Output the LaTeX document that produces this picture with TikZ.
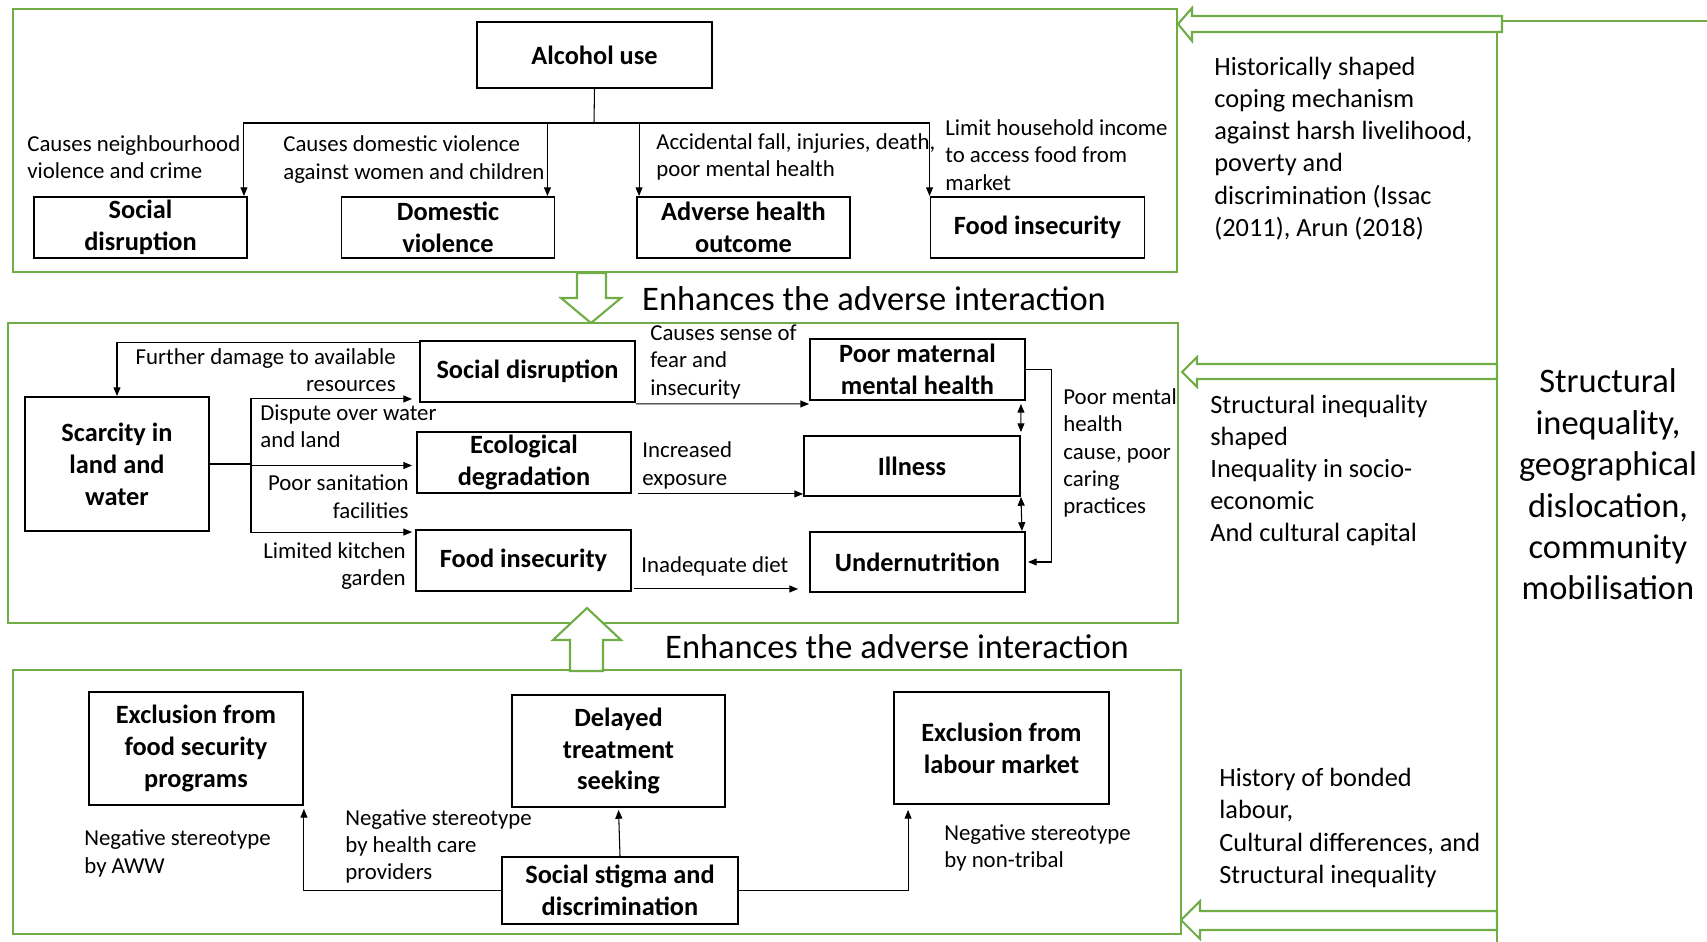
\documentclass[tikz,border=0pt]{standalone}
\usepackage{fontspec}
\setmainfont{Carlito}
\usetikzlibrary{arrows.meta, positioning, calc}
\definecolor{boxgreen}{RGB}{112,173,71}

\begin{document}
\begin{tikzpicture}[x=0.02cm, y=-0.02cm,
  box/.style={draw, line width=1.1pt, align=center, inner sep=1pt,
    font=\fontsize{15}{18.2}\selectfont\bfseries},
  lbl/.style={inner sep=0pt, font=\fontsize{13}{15.6}\selectfont},
  side/.style={inner sep=0pt, anchor=west, align=left, font=\fontsize{15}{18.3}\selectfont},
  enh/.style={inner sep=0pt, font=\fontsize{19.6}{23}\selectfont},
  arr/.style={line width=0.6pt, -{Triangle[length=5pt,width=4pt]}},
  darr/.style={line width=0.6pt, {Triangle[length=5pt,width=4pt]}-{Triangle[length=5pt,width=4pt]}},
  panel/.style={draw=boxgreen, line width=1.2pt},
  hollow/.style={draw=boxgreen, line width=1.2pt, fill=white}]

\useasboundingbox (0,0) rectangle (1707,942);

% Green panels
\draw[panel] (13,9) rectangle (1177,272);
\draw[panel] (8,323) rectangle (1178,623);
\draw[panel] (13,670) rectangle (1181,934);

% Right spine
\draw[panel] (1497,32) -- (1497,942);
\draw[panel] (1502,21) -- (1707,21);

% Hollow arrows
\draw[hollow] (577,273) -- (606,273) -- (606,298) -- (621,298) -- (591,323) -- (561,298) -- (577,298) -- cycle;
\draw[hollow] (570,671) -- (570,640) -- (553,640) -- (587,608) -- (621,640) -- (603,640) -- (603,671) -- cycle;
\draw[hollow] (1502,16) -- (1192,16) -- (1192,8) -- (1178,24) -- (1192,41) -- (1192,32) -- (1502,32) -- cycle;
\draw[hollow] (1497,364) -- (1197,364) -- (1197,357) -- (1182,372) -- (1197,387) -- (1197,379) -- (1497,379) -- cycle;
\draw[hollow] (1497,911) -- (1200,911) -- (1200,901) -- (1181,920) -- (1200,939) -- (1200,930) -- (1497,930) -- cycle;

\node[enh] (enh1) at (874,299) {Enhances the adverse interaction};
\node[enh] (enh2) at (897,647) {Enhances the adverse interaction};

% Top panel
\node[box, minimum width=4.7cm, minimum height=1.32cm] (alc) at (594.5,55) {Alcohol use};
\node[box, minimum width=4.26cm, minimum height=1.22cm] (sdisA) at (140.5,227.5) {Social\\disruption};
\node[box, minimum width=4.26cm, minimum height=1.22cm] (dvio) at (448,227.5) {Domestic\\violence};
\node[box, minimum width=4.26cm, minimum height=1.22cm] (adv) at (743.5,227.5) {Adverse health\\outcome};
\node[box, minimum width=4.28cm, minimum height=1.22cm] (finsA) at (1037.5,227.5) {Food insecurity};

\coordinate (brA) at (594,123);
\draw[line width=0.6pt] (alc.south) -- (brA);
\draw[arr] (brA) -| ([xshift=-0.08cm]sdisA.north east);
\draw[arr] (brA) -| ([xshift=-0.16cm]dvio.north east);
\draw[arr] (brA) -| ([xshift=0.06cm]adv.north west);
\draw[arr] (brA) -| (finsA.north west);

\node[lbl, anchor=west, align=left] (lA) at (27,157) {Causes neighbourhood\\violence and crime};
\node[lbl, anchor=west, align=left] (lB) at (283,159.5) {Causes domestic violence\\against women and children};
\node[lbl, anchor=west, align=left] (lC) at (656,157) {Accidental fall, injuries, death,\\poor mental health};
\node[lbl, anchor=west, align=left] (lD) at (945,155) {Limit household income\\to access food from\\market};

% Middle panel
\node[box, minimum width=3.68cm, minimum height=2.68cm] (scar) at (117,464) {Scarcity in\\land and\\water};
\node[box, minimum width=4.3cm, minimum height=1.22cm] (sdisB) at (527.5,371.5) {Social disruption};
\node[box, minimum width=4.28cm, minimum height=1.22cm] (eco) at (524,462.5) {Ecological\\degradation};
\node[box, minimum width=4.3cm, minimum height=1.22cm] (finsB) at (523.5,560.5) {Food insecurity};
\node[box, minimum width=4.3cm, minimum height=1.22cm] (pmh) at (917.5,369.5) {Poor maternal\\mental health};
\node[box, minimum width=4.32cm, minimum height=1.2cm] (ill) at (912,466) {Illness};
\node[box, minimum width=4.3cm, minimum height=1.2cm] (und) at (917.5,562) {Undernutrition};

\draw[arr] ([yshift=-0.04cm]sdisB.north west) -| (scar.north);
\coordinate (brB) at (251,464);
\draw[line width=0.6pt] (scar.east) -- (brB);
\draw[arr] (brB) |- ([xshift=-0.14cm,yshift=0.08cm]sdisB.south west);
\draw[arr] (brB) |- ([xshift=-0.08cm,yshift=-0.06cm]eco.west);
\draw[arr] (brB) |- ([xshift=-0.06cm,yshift=-0.06cm]finsB.north west);
\draw[arr] ([yshift=-0.02cm]sdisB.south east) -- ([yshift=-0.06cm]pmh.south west);
\draw[arr] ([xshift=0.12cm]eco.south east) -- (eco.south east -| ill.west);
\draw[arr, shorten >=0.22cm] ([xshift=0.04cm,yshift=0.06cm]finsB.south east) -- ([yshift=0.06cm]finsB.south east -| und.west);
\draw[darr, shorten <=0.06cm, shorten >=0.06cm] ([xshift=-0.1cm]pmh.south east) -- (ill.north east);
\draw[darr] (ill.south east) -- ([xshift=-0.08cm]und.north east);
\draw[arr] (pmh.east) -- ++(26,0) |- ([xshift=0.04cm]und.east);

\node[lbl, anchor=east, align=right] (lE) at (396,370) {Further damage to available\\resources};
\node[lbl, anchor=west, align=left] (lF) at (260,426.5) {Dispute over water\\and land};
\node[lbl, anchor=east, align=right] (lG) at (409,496.5) {Poor sanitation\\facilities};
\node[lbl, anchor=east, align=right] (lH) at (406,566) {Limited kitchen\\garden};
\node[lbl, anchor=west, align=left] (lI) at (650,362) {Causes sense of\\fear and\\insecurity};
\node[lbl, anchor=west, align=left] (lJ) at (642,465.5) {Increased\\exposure};
\node[lbl, anchor=west, align=left] (lK) at (641,566) {Inadequate diet};
\node[lbl, anchor=west, align=left] (lL) at (1063,453) {Poor mental\\health\\cause, poor\\caring\\practices};

% Bottom panel
\node[box, minimum width=4.28cm, minimum height=2.26cm] (excf) at (196,748.5) {Exclusion from\\food security\\programs};
\node[box, minimum width=4.26cm, minimum height=2.24cm] (delay) at (618.5,751) {Delayed\\treatment\\seeking};
\node[box, minimum width=4.3cm, minimum height=2.24cm] (excl) at (1001.5,748) {Exclusion from\\labour market};
\node[box, minimum width=4.72cm, minimum height=1.34cm] (stig) at (620,890.5) {Social stigma and\\discrimination};

\draw[arr, shorten >=0.06cm] (stig.west) -| (excf.south east);
\draw[arr, shorten >=0.04cm] (stig.north) -- (delay.south);
\draw[arr, shorten >=0.1cm] (stig.east) -| ([xshift=0.3cm]excl.south west);

\node[lbl, anchor=west, align=left] (lM) at (84,853.5) {Negative stereotype\\by AWW};
\node[lbl, anchor=west, align=left] (lN) at (345,846.5) {Negative stereotype\\by health care\\providers};
\node[lbl, anchor=west, align=left] (lO) at (944,848) {Negative stereotype\\by non-tribal};

% Right side texts
\node[side] (hist) at (1214,148.5) {Historically shaped\\coping mechanism\\against harsh livelihood,\\poverty and\\discrimination (Issac\\(2011), Arun (2018)};
\node[side] (struc) at (1210,470.5) {Structural inequality\\shaped\\Inequality in socio-\\economic\\And cultural capital};
\node[side] (bond) at (1219,828) {History of bonded\\labour,\\Cultural differences, and\\Structural inequality};
\node[inner sep=0pt, align=center, font=\fontsize{19.6}{23.6}\selectfont] (big) at (1608,484.5) {Structural\\inequality,\\geographical\\dislocation,\\community\\mobilisation};
\end{tikzpicture}
\end{document}
